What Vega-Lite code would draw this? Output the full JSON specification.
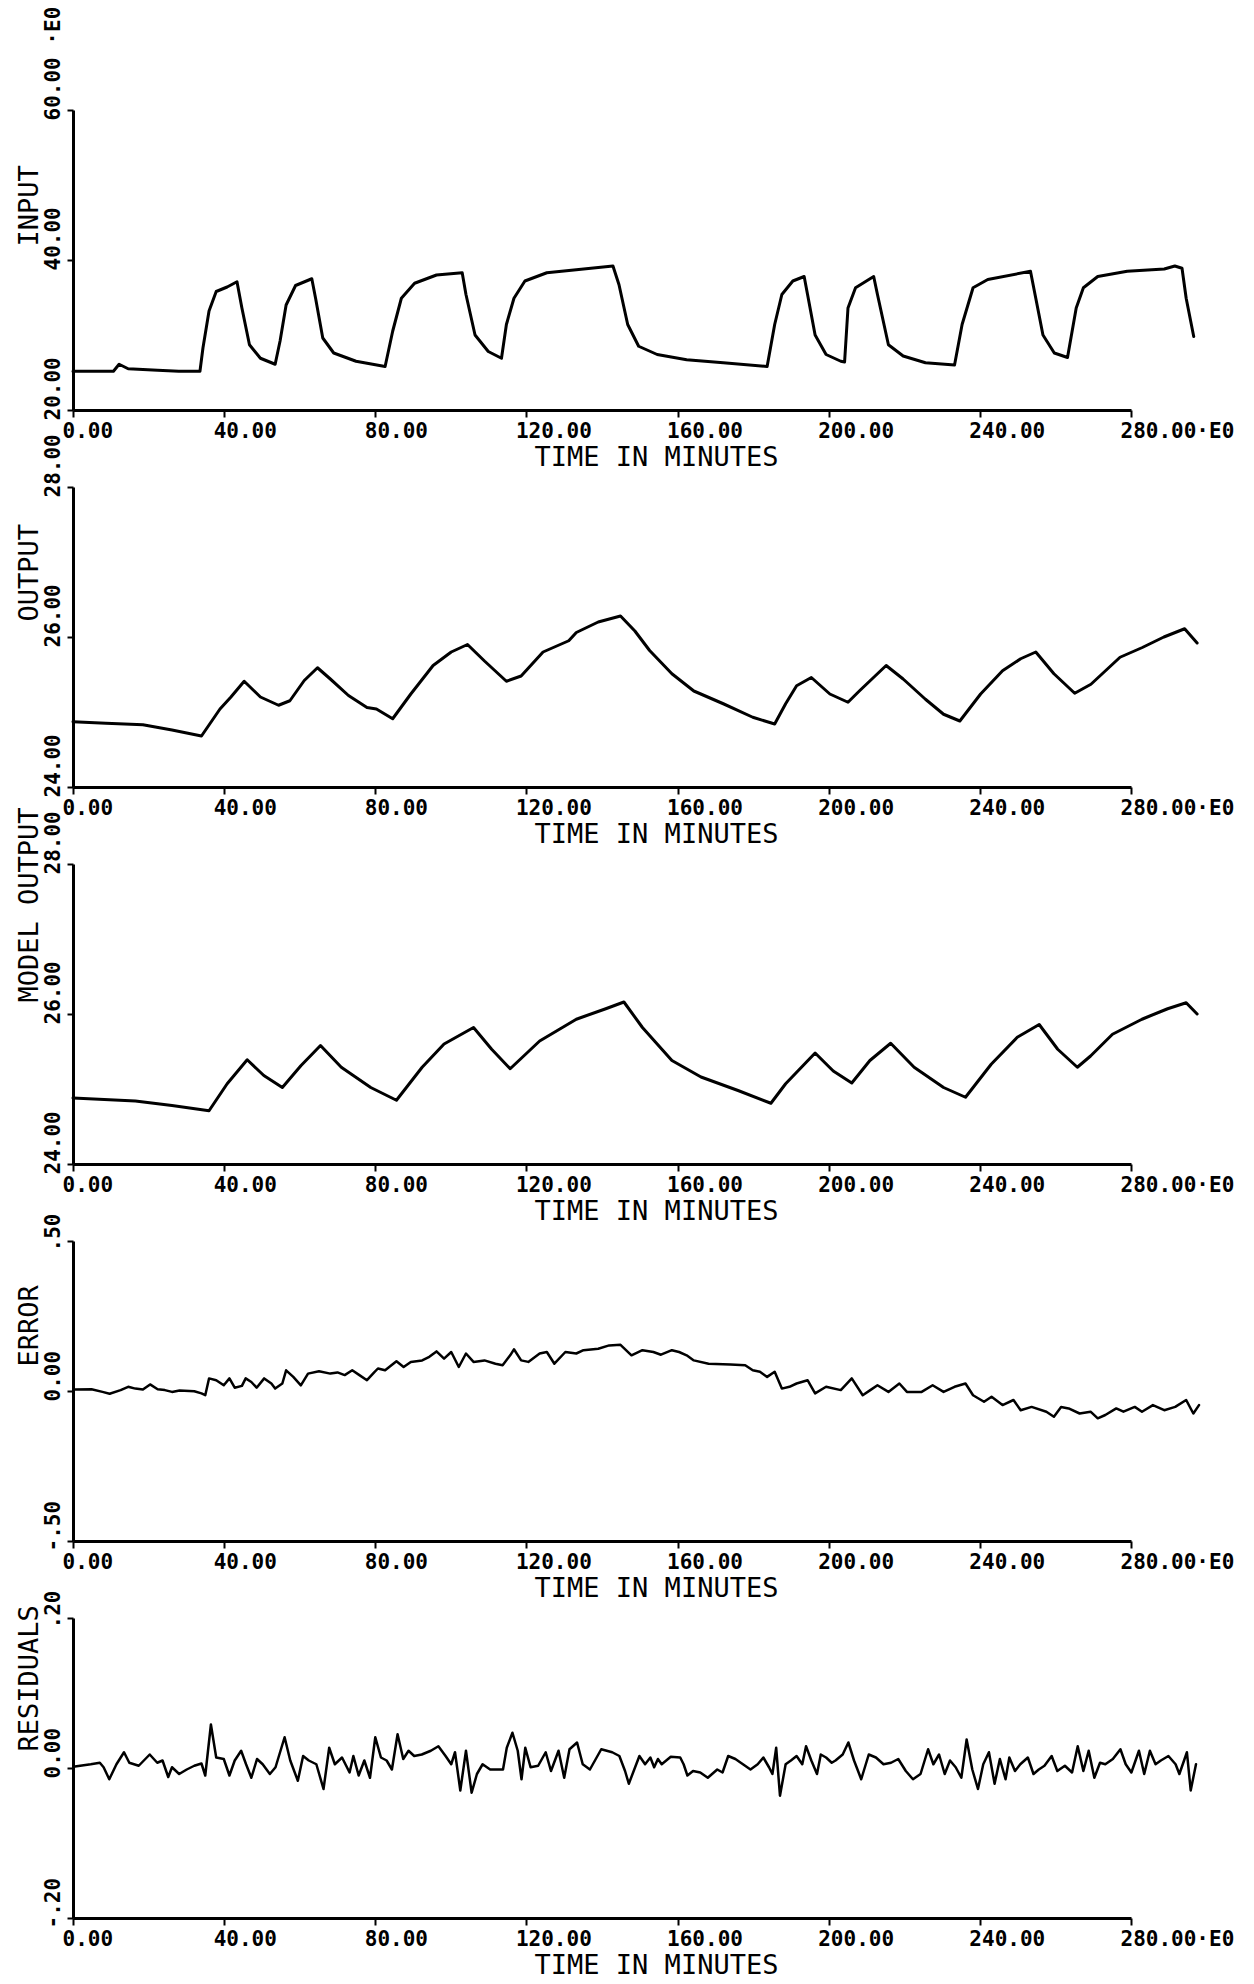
{
  "$schema": "https://vega.github.io/schema/vega-lite/v6.json",
  "background": "white",
  "padding": {"top": 6, "left": 14, "right": 5, "bottom": 2},
  "spacing": 77,
  "bounds": "flush",
  "config": {
    "view": {"stroke": null},
    "line": {"color": "black", "strokeWidth": 3, "strokeJoin": "round", "strokeCap": "round"},
    "axis": {
      "grid": false,
      "domainColor": "black",
      "domainWidth": 3,
      "tickColor": "black",
      "tickWidth": 2,
      "labelColor": "black",
      "labelFont": "DejaVu Sans Mono",
      "labelFontSize": 21,
      "labelFontWeight": "bold",
      "labelOverlap": false,
      "labelFlush": false,
      "labelLimit": 400,
      "titleColor": "black",
      "titleFont": "DejaVu Sans Mono",
      "titleFontSize": 27,
      "titleFontWeight": "normal"
    },
    "axisX": {
      "tickSize": 7,
      "labelAlign": "left",
      "labelBaseline": "top",
      "labelOffset": -11,
      "labelPadding": 3,
      "titleX": 583,
      "titleY": 55,
      "titleAlign": "center",
      "titleBaseline": "alphabetic"
    },
    "axisY": {
      "tickSize": 6,
      "labelAngle": 270,
      "labelAlign": "left",
      "labelBaseline": "bottom",
      "labelPadding": 4,
      "labelOffset": 10,
      "titleAngle": 270,
      "titleAlign": "left",
      "titleBaseline": "alphabetic",
      "titleX": -36
    }
  },
  "datasets": {
    "input": [
      {"t": 0, "v": 25.16}, {"t": 10.7, "v": 25.16}, {"t": 12.2, "v": 26.1}, {"t": 14.6, "v": 25.5}, {"t": 22.4, "v": 25.3}, {"t": 28, "v": 25.16}, {"t": 33.6, "v": 25.16},
      {"t": 34.4, "v": 28.3}, {"t": 36, "v": 33.2}, {"t": 37.9, "v": 35.8}, {"t": 40.8, "v": 36.4}, {"t": 43.4, "v": 37.1},
      {"t": 44.7, "v": 33.6}, {"t": 46.7, "v": 28.7}, {"t": 49.6, "v": 26.9}, {"t": 53.5, "v": 26.1},
      {"t": 54.8, "v": 29.2}, {"t": 56.4, "v": 34.0}, {"t": 58.9, "v": 36.6}, {"t": 63.2, "v": 37.5},
      {"t": 64.2, "v": 34.9}, {"t": 66.1, "v": 29.6}, {"t": 69, "v": 27.6}, {"t": 74.9, "v": 26.5}, {"t": 82.6, "v": 25.8},
      {"t": 84.6, "v": 30.5}, {"t": 86.9, "v": 34.9}, {"t": 90.4, "v": 36.9}, {"t": 96.2, "v": 38.0}, {"t": 103, "v": 38.3},
      {"t": 104, "v": 35.4}, {"t": 106.4, "v": 30.0}, {"t": 109.9, "v": 27.8}, {"t": 113.4, "v": 26.9},
      {"t": 114.7, "v": 31.4}, {"t": 116.7, "v": 34.9}, {"t": 119.6, "v": 37.2}, {"t": 125.4, "v": 38.3}, {"t": 133.2, "v": 38.7}, {"t": 142.9, "v": 39.2},
      {"t": 144.5, "v": 36.7}, {"t": 146.8, "v": 31.4}, {"t": 149.7, "v": 28.5}, {"t": 154.6, "v": 27.4}, {"t": 162.4, "v": 26.7}, {"t": 172.1, "v": 26.3}, {"t": 183.7, "v": 25.8},
      {"t": 185.7, "v": 31.4}, {"t": 187.6, "v": 35.4}, {"t": 190.5, "v": 37.2}, {"t": 193.5, "v": 37.8},
      {"t": 194.4, "v": 35.4}, {"t": 196.4, "v": 30.0}, {"t": 199.3, "v": 27.4}, {"t": 203.2, "v": 26.5}, {"t": 204.2, "v": 26.4},
      {"t": 205.1, "v": 33.6}, {"t": 207.1, "v": 36.3}, {"t": 211.9, "v": 37.8},
      {"t": 212.9, "v": 35.4}, {"t": 215.8, "v": 28.7}, {"t": 219.7, "v": 27.2}, {"t": 225.6, "v": 26.3}, {"t": 233.3, "v": 26.0},
      {"t": 235.3, "v": 31.4}, {"t": 238.2, "v": 36.3}, {"t": 242.1, "v": 37.4}, {"t": 253.4, "v": 38.5},
      {"t": 254.8, "v": 34.9}, {"t": 256.7, "v": 30.0}, {"t": 259.7, "v": 27.6}, {"t": 263.2, "v": 27.0},
      {"t": 265.5, "v": 33.6}, {"t": 267.4, "v": 36.3}, {"t": 271.2, "v": 37.8}, {"t": 279, "v": 38.5}, {"t": 288.8, "v": 38.8}, {"t": 291.6, "v": 39.2}, {"t": 293.5, "v": 38.9},
      {"t": 294.6, "v": 34.9}, {"t": 296.6, "v": 29.8}
    ],
    "output": [
      {"t": 0, "v": 24.87}, {"t": 8.7, "v": 24.85}, {"t": 18.5, "v": 24.83}, {"t": 26.2, "v": 24.76}, {"t": 34, "v": 24.68}, {"t": 38.9, "v": 25.04}, {"t": 41.8, "v": 25.2}, {"t": 45.3, "v": 25.41},
      {"t": 49.6, "v": 25.2}, {"t": 54.4, "v": 25.09}, {"t": 57.4, "v": 25.15}, {"t": 61.2, "v": 25.42}, {"t": 64.7, "v": 25.59}, {"t": 68.1, "v": 25.44}, {"t": 72.9, "v": 25.22},
      {"t": 77.8, "v": 25.06}, {"t": 80.3, "v": 25.04}, {"t": 84.6, "v": 24.91}, {"t": 89.4, "v": 25.24}, {"t": 95.3, "v": 25.62}, {"t": 100.1, "v": 25.8}, {"t": 104.4, "v": 25.9},
      {"t": 108.9, "v": 25.68}, {"t": 114.7, "v": 25.41}, {"t": 118.6, "v": 25.48}, {"t": 124.4, "v": 25.8}, {"t": 131.2, "v": 25.95}, {"t": 133.2, "v": 26.06}, {"t": 139, "v": 26.2},
      {"t": 144.9, "v": 26.28}, {"t": 148.7, "v": 26.08}, {"t": 152.6, "v": 25.82}, {"t": 158.5, "v": 25.51}, {"t": 164.3, "v": 25.28}, {"t": 172.1, "v": 25.11}, {"t": 179.9, "v": 24.93},
      {"t": 185.7, "v": 24.84}, {"t": 188.6, "v": 25.11}, {"t": 191.5, "v": 25.35}, {"t": 195.4, "v": 25.46}, {"t": 200.3, "v": 25.24}, {"t": 205.1, "v": 25.13}, {"t": 208.1, "v": 25.28},
      {"t": 215.2, "v": 25.62}, {"t": 219.7, "v": 25.44}, {"t": 225.6, "v": 25.17}, {"t": 230.4, "v": 24.97}, {"t": 234.7, "v": 24.88}, {"t": 240.2, "v": 25.24}, {"t": 246, "v": 25.55},
      {"t": 250.8, "v": 25.71}, {"t": 254.8, "v": 25.8}, {"t": 259.6, "v": 25.51}, {"t": 265.1, "v": 25.25}, {"t": 269.4, "v": 25.37}, {"t": 277.1, "v": 25.73}, {"t": 283, "v": 25.86},
      {"t": 288.7, "v": 26.0}, {"t": 294.2, "v": 26.11}, {"t": 297.5, "v": 25.92}
    ],
    "model": [
      {"t": 0, "v": 24.88}, {"t": 16.5, "v": 24.84}, {"t": 26.2, "v": 24.78}, {"t": 36, "v": 24.71}, {"t": 40.8, "v": 25.07}, {"t": 46.1, "v": 25.39}, {"t": 50.5, "v": 25.18},
      {"t": 55.4, "v": 25.02}, {"t": 60.3, "v": 25.31}, {"t": 65.5, "v": 25.58}, {"t": 71, "v": 25.29}, {"t": 78.8, "v": 25.02}, {"t": 85.6, "v": 24.85}, {"t": 92.4, "v": 25.29},
      {"t": 98.2, "v": 25.6}, {"t": 106, "v": 25.82}, {"t": 110.8, "v": 25.53}, {"t": 115.7, "v": 25.27}, {"t": 123.5, "v": 25.64}, {"t": 133.2, "v": 25.93}, {"t": 141, "v": 26.07},
      {"t": 145.8, "v": 26.16}, {"t": 150.7, "v": 25.82}, {"t": 158.5, "v": 25.38}, {"t": 166.2, "v": 25.16}, {"t": 176, "v": 24.98}, {"t": 184.7, "v": 24.81}, {"t": 188.6, "v": 25.07},
      {"t": 196.4, "v": 25.48}, {"t": 201.2, "v": 25.24}, {"t": 206.1, "v": 25.08}, {"t": 210.9, "v": 25.38}, {"t": 216.4, "v": 25.61}, {"t": 222.6, "v": 25.29}, {"t": 230.4, "v": 25.02},
      {"t": 236.2, "v": 24.89}, {"t": 243, "v": 25.33}, {"t": 249.9, "v": 25.69}, {"t": 255.7, "v": 25.86}, {"t": 260.6, "v": 25.53}, {"t": 265.8, "v": 25.29}, {"t": 269.3, "v": 25.44},
      {"t": 275.1, "v": 25.73}, {"t": 282.9, "v": 25.93}, {"t": 289.7, "v": 26.07}, {"t": 294.6, "v": 26.15}, {"t": 297.5, "v": 26.0}
    ],
    "error": [
      {"t": 0.5, "v": 0.005}, {"t": 4.9, "v": 0.006}, {"t": 7.8, "v": -0.003}, {"t": 9.7, "v": -0.009}, {"t": 12.6, "v": 0.003}, {"t": 14.6, "v": 0.014}, {"t": 16.5, "v": 0.008},
      {"t": 18.5, "v": 0.005}, {"t": 20.4, "v": 0.022}, {"t": 22.4, "v": 0.006}, {"t": 24.3, "v": 0.003}, {"t": 26.2, "v": -0.003}, {"t": 28.2, "v": 0.002}, {"t": 32.1, "v": -0.001},
      {"t": 34.0, "v": -0.008}, {"t": 35.0, "v": -0.014}, {"t": 36.0, "v": 0.042}, {"t": 37.9, "v": 0.036}, {"t": 39.9, "v": 0.019}, {"t": 41.4, "v": 0.042}, {"t": 42.8, "v": 0.011},
      {"t": 44.7, "v": 0.017}, {"t": 45.7, "v": 0.042}, {"t": 47.2, "v": 0.03}, {"t": 48.6, "v": 0.011}, {"t": 50.6, "v": 0.042}, {"t": 52.5, "v": 0.025}, {"t": 53.5, "v": 0.008},
      {"t": 55.4, "v": 0.025}, {"t": 56.4, "v": 0.069}, {"t": 58.3, "v": 0.047}, {"t": 60.3, "v": 0.019}, {"t": 62.2, "v": 0.058}, {"t": 65.1, "v": 0.066}, {"t": 68.1, "v": 0.058},
      {"t": 70.0, "v": 0.062}, {"t": 71.9, "v": 0.053}, {"t": 73.9, "v": 0.069}, {"t": 75.8, "v": 0.053}, {"t": 77.8, "v": 0.036}, {"t": 79.7, "v": 0.062}, {"t": 80.7, "v": 0.075},
      {"t": 82.6, "v": 0.069}, {"t": 85.6, "v": 0.099}, {"t": 87.5, "v": 0.08}, {"t": 89.4, "v": 0.097}, {"t": 92.4, "v": 0.102}, {"t": 94.3, "v": 0.114}, {"t": 96.2, "v": 0.132},
      {"t": 98.2, "v": 0.108}, {"t": 100.1, "v": 0.13}, {"t": 102.1, "v": 0.08}, {"t": 104.0, "v": 0.125}, {"t": 106.0, "v": 0.097}, {"t": 108.9, "v": 0.102}, {"t": 111.8, "v": 0.091},
      {"t": 113.7, "v": 0.086}, {"t": 115.7, "v": 0.119}, {"t": 116.7, "v": 0.139}, {"t": 118.6, "v": 0.102}, {"t": 120.5, "v": 0.097}, {"t": 123.5, "v": 0.125}, {"t": 125.4, "v": 0.13},
      {"t": 127.4, "v": 0.091}, {"t": 130.3, "v": 0.13}, {"t": 133.2, "v": 0.125}, {"t": 135.1, "v": 0.136}, {"t": 139.0, "v": 0.141}, {"t": 141.9, "v": 0.152}, {"t": 144.9, "v": 0.154},
      {"t": 147.8, "v": 0.119}, {"t": 150.7, "v": 0.136}, {"t": 153.6, "v": 0.13}, {"t": 155.6, "v": 0.121}, {"t": 158.5, "v": 0.136}, {"t": 160.4, "v": 0.13}, {"t": 162.4, "v": 0.119},
      {"t": 164.3, "v": 0.102}, {"t": 168.2, "v": 0.091}, {"t": 174.0, "v": 0.088}, {"t": 177.9, "v": 0.086}, {"t": 179.9, "v": 0.069}, {"t": 181.8, "v": 0.064}, {"t": 183.7, "v": 0.047},
      {"t": 185.7, "v": 0.064}, {"t": 187.6, "v": 0.008}, {"t": 189.6, "v": 0.014}, {"t": 191.5, "v": 0.025}, {"t": 194.4, "v": 0.036}, {"t": 196.4, "v": -0.008}, {"t": 199.3, "v": 0.014},
      {"t": 203.2, "v": 0.003}, {"t": 206.1, "v": 0.042}, {"t": 209.0, "v": -0.014}, {"t": 211.0, "v": 0.003}, {"t": 212.9, "v": 0.019}, {"t": 215.8, "v": -0.003}, {"t": 218.7, "v": 0.025},
      {"t": 220.7, "v": -0.003}, {"t": 224.6, "v": -0.003}, {"t": 227.5, "v": 0.019}, {"t": 230.4, "v": -0.003}, {"t": 233.3, "v": 0.014}, {"t": 236.2, "v": 0.025}, {"t": 238.2, "v": -0.014},
      {"t": 241.1, "v": -0.036}, {"t": 243.1, "v": -0.019}, {"t": 246.0, "v": -0.047}, {"t": 248.9, "v": -0.03}, {"t": 250.8, "v": -0.064}, {"t": 253.7, "v": -0.053}, {"t": 257.6, "v": -0.069},
      {"t": 259.6, "v": -0.086}, {"t": 261.5, "v": -0.053}, {"t": 263.5, "v": -0.058}, {"t": 266.4, "v": -0.075}, {"t": 269.3, "v": -0.069}, {"t": 271.2, "v": -0.091}, {"t": 273.2, "v": -0.08},
      {"t": 276.1, "v": -0.058}, {"t": 278.0, "v": -0.069}, {"t": 281.0, "v": -0.053}, {"t": 282.9, "v": -0.069}, {"t": 285.8, "v": -0.047}, {"t": 288.8, "v": -0.064}, {"t": 291.7, "v": -0.053},
      {"t": 294.6, "v": -0.03}, {"t": 296.5, "v": -0.075}, {"t": 298.0, "v": -0.047}
    ],
    "resid": [
      {"t": 0.5, "v": 0.002}, {"t": 4.7, "v": 0.005}, {"t": 7.1, "v": 0.007}, {"t": 8.1, "v": 0.001}, {"t": 9.6, "v": -0.015}, {"t": 11.5, "v": 0.005}, {"t": 13.5, "v": 0.021},
      {"t": 14.9, "v": 0.007}, {"t": 17.4, "v": 0.003}, {"t": 20.3, "v": 0.018}, {"t": 22.3, "v": 0.007}, {"t": 23.7, "v": 0.01}, {"t": 25.2, "v": -0.012}, {"t": 26.2, "v": 0.001},
      {"t": 28.1, "v": -0.008}, {"t": 30.1, "v": -0.002}, {"t": 32.1, "v": 0.003}, {"t": 34.0, "v": 0.006}, {"t": 35.0, "v": -0.01}, {"t": 36.5, "v": 0.058}, {"t": 37.9, "v": 0.014},
      {"t": 39.9, "v": 0.012}, {"t": 41.4, "v": -0.01}, {"t": 42.8, "v": 0.01}, {"t": 44.5, "v": 0.023}, {"t": 45.8, "v": 0.005}, {"t": 47.2, "v": -0.013}, {"t": 48.7, "v": 0.012},
      {"t": 50.2, "v": 0.005}, {"t": 52.1, "v": -0.008}, {"t": 53.6, "v": 0.001}, {"t": 56.0, "v": 0.041}, {"t": 57.5, "v": 0.01}, {"t": 59.5, "v": -0.017}, {"t": 60.9, "v": 0.016},
      {"t": 62.4, "v": 0.01}, {"t": 64.4, "v": 0.005}, {"t": 66.3, "v": -0.028}, {"t": 67.8, "v": 0.027}, {"t": 69.3, "v": 0.005}, {"t": 71.2, "v": 0.014}, {"t": 73.2, "v": -0.006},
      {"t": 74.2, "v": 0.016}, {"t": 75.6, "v": -0.01}, {"t": 77.1, "v": 0.01}, {"t": 78.6, "v": -0.013}, {"t": 80.0, "v": 0.041}, {"t": 81.5, "v": 0.014}, {"t": 83.0, "v": 0.01},
      {"t": 84.4, "v": -0.002}, {"t": 85.9, "v": 0.045}, {"t": 87.4, "v": 0.012}, {"t": 88.8, "v": 0.023}, {"t": 90.3, "v": 0.016}, {"t": 92.3, "v": 0.018}, {"t": 94.7, "v": 0.023},
      {"t": 96.7, "v": 0.029}, {"t": 98.6, "v": 0.016}, {"t": 100.1, "v": 0.005}, {"t": 101.1, "v": 0.021}, {"t": 102.5, "v": -0.03}, {"t": 104.0, "v": 0.023}, {"t": 105.5, "v": -0.033},
      {"t": 106.9, "v": -0.008}, {"t": 108.4, "v": 0.005}, {"t": 110.4, "v": -0.002}, {"t": 113.8, "v": -0.002}, {"t": 114.8, "v": 0.027}, {"t": 116.3, "v": 0.047}, {"t": 117.7, "v": 0.023},
      {"t": 118.7, "v": -0.015}, {"t": 119.7, "v": 0.027}, {"t": 121.1, "v": 0.001}, {"t": 123.1, "v": 0.003}, {"t": 125.1, "v": 0.021}, {"t": 126.5, "v": -0.004}, {"t": 128.5, "v": 0.023},
      {"t": 130.0, "v": -0.013}, {"t": 131.4, "v": 0.025}, {"t": 133.4, "v": 0.034}, {"t": 134.9, "v": 0.005}, {"t": 136.8, "v": -0.002}, {"t": 139.8, "v": 0.025}, {"t": 142.7, "v": 0.021},
      {"t": 144.6, "v": 0.016}, {"t": 146.1, "v": -0.004}, {"t": 147.1, "v": -0.021}, {"t": 149.9, "v": 0.016}, {"t": 151.4, "v": 0.005}, {"t": 152.8, "v": 0.014}, {"t": 153.8, "v": 0.001},
      {"t": 154.8, "v": 0.012}, {"t": 155.8, "v": 0.005}, {"t": 158.2, "v": 0.015}, {"t": 160.7, "v": 0.014}, {"t": 161.6, "v": 0.005}, {"t": 162.6, "v": -0.01}, {"t": 164.1, "v": -0.004},
      {"t": 166.0, "v": -0.006}, {"t": 168.0, "v": -0.013}, {"t": 170.5, "v": -0.002}, {"t": 171.9, "v": -0.006}, {"t": 173.4, "v": 0.016}, {"t": 175.3, "v": 0.012}, {"t": 177.3, "v": 0.005},
      {"t": 179.3, "v": -0.002}, {"t": 181.2, "v": 0.005}, {"t": 182.7, "v": 0.014}, {"t": 184.2, "v": 0.001}, {"t": 185.1, "v": -0.008}, {"t": 186.1, "v": 0.027}, {"t": 187.1, "v": -0.037},
      {"t": 188.6, "v": 0.005}, {"t": 190.0, "v": 0.01}, {"t": 191.5, "v": 0.016}, {"t": 193.0, "v": 0.005}, {"t": 194.0, "v": 0.029}, {"t": 195.4, "v": 0.01}, {"t": 196.9, "v": -0.008},
      {"t": 197.9, "v": 0.018}, {"t": 199.3, "v": 0.014}, {"t": 200.8, "v": 0.007}, {"t": 201.8, "v": 0.01}, {"t": 203.7, "v": 0.018}, {"t": 205.2, "v": 0.034}, {"t": 206.7, "v": 0.01},
      {"t": 208.6, "v": -0.015}, {"t": 210.6, "v": 0.018}, {"t": 212.5, "v": 0.014}, {"t": 214.5, "v": 0.005}, {"t": 216.5, "v": 0.007}, {"t": 218.4, "v": 0.012}, {"t": 220.4, "v": -0.004},
      {"t": 222.3, "v": -0.015}, {"t": 224.3, "v": -0.008}, {"t": 226.3, "v": 0.025}, {"t": 227.7, "v": 0.005}, {"t": 229.2, "v": 0.018}, {"t": 230.7, "v": -0.008}, {"t": 232.1, "v": 0.01},
      {"t": 233.6, "v": 0.001}, {"t": 235.1, "v": -0.013}, {"t": 236.5, "v": 0.038}, {"t": 238.0, "v": -0.002}, {"t": 239.5, "v": -0.028}, {"t": 240.9, "v": 0.005}, {"t": 242.4, "v": 0.021},
      {"t": 243.9, "v": -0.021}, {"t": 245.3, "v": 0.012}, {"t": 246.8, "v": -0.015}, {"t": 247.8, "v": 0.014}, {"t": 249.3, "v": -0.004}, {"t": 250.7, "v": 0.005}, {"t": 252.7, "v": 0.014},
      {"t": 254.2, "v": -0.008}, {"t": 255.6, "v": -0.002}, {"t": 257.1, "v": 0.003}, {"t": 259.0, "v": 0.016}, {"t": 260.5, "v": -0.004}, {"t": 262.5, "v": 0.003}, {"t": 264.4, "v": -0.006},
      {"t": 265.9, "v": 0.029}, {"t": 267.4, "v": -0.004}, {"t": 268.8, "v": 0.023}, {"t": 270.3, "v": -0.013}, {"t": 271.8, "v": 0.007}, {"t": 273.2, "v": 0.005}, {"t": 275.2, "v": 0.012},
      {"t": 277.2, "v": 0.025}, {"t": 278.6, "v": 0.005}, {"t": 280.1, "v": -0.006}, {"t": 282.1, "v": 0.023}, {"t": 283.5, "v": -0.008}, {"t": 285.0, "v": 0.023}, {"t": 286.5, "v": 0.005},
      {"t": 287.9, "v": 0.01}, {"t": 289.9, "v": 0.016}, {"t": 291.8, "v": 0.005}, {"t": 292.8, "v": -0.008}, {"t": 294.8, "v": 0.021}, {"t": 295.8, "v": -0.03}, {"t": 297.2, "v": 0.005}
    ]
  },
  "vconcat": [
    {
      "width": 1058, "height": 300,
      "data": {"name": "input"},
      "mark": {"type": "line"},
      "encoding": {
        "x": {"field": "t", "type": "quantitative", "scale": {"domain": [0, 280], "nice": false, "zero": false},
              "axis": {"title": "TIME IN MINUTES", "values": [0, 40, 80, 120, 160, 200, 240, 280], "labelExpr": "datum.value == 280 ? '280.00·E0' : format(datum.value, '.2f')"}},
        "y": {"field": "v", "type": "quantitative", "scale": {"domain": [20, 60], "nice": false, "zero": false},
              "axis": {"title": "INPUT", "titleY": 136, "values": [20, 40, 60],
                       "labelExpr": "datum.value == 60 ? '60.00 ·E0' : format(datum.value, '.2f')"}}
      }
    },
    {
      "width": 1058, "height": 300,
      "data": {"name": "output"},
      "mark": {"type": "line"},
      "encoding": {
        "x": {"field": "t", "type": "quantitative", "scale": {"domain": [0, 280], "nice": false, "zero": false},
              "axis": {"title": "TIME IN MINUTES", "values": [0, 40, 80, 120, 160, 200, 240, 280], "labelExpr": "datum.value == 280 ? '280.00·E0' : format(datum.value, '.2f')"}},
        "y": {"field": "v", "type": "quantitative", "scale": {"domain": [24, 28], "nice": false, "zero": false},
              "axis": {"title": "OUTPUT", "titleY": 134, "values": [24, 26, 28], "labelExpr": "format(datum.value, '.2f')"}}
      }
    },
    {
      "width": 1058, "height": 300,
      "data": {"name": "model"},
      "mark": {"type": "line"},
      "encoding": {
        "x": {"field": "t", "type": "quantitative", "scale": {"domain": [0, 280], "nice": false, "zero": false},
              "axis": {"title": "TIME IN MINUTES", "values": [0, 40, 80, 120, 160, 200, 240, 280], "labelExpr": "datum.value == 280 ? '280.00·E0' : format(datum.value, '.2f')"}},
        "y": {"field": "v", "type": "quantitative", "scale": {"domain": [24, 28], "nice": false, "zero": false},
              "axis": {"title": "MODEL OUTPUT", "titleY": 138, "values": [24, 26, 28], "labelExpr": "format(datum.value, '.2f')"}}
      }
    },
    {
      "width": 1058, "height": 300,
      "data": {"name": "error"},
      "mark": {"type": "line", "strokeWidth": 2.5},
      "encoding": {
        "x": {"field": "t", "type": "quantitative", "scale": {"domain": [0, 280], "nice": false, "zero": false},
              "axis": {"title": "TIME IN MINUTES", "values": [0, 40, 80, 120, 160, 200, 240, 280], "labelExpr": "datum.value == 280 ? '280.00·E0' : format(datum.value, '.2f')"}},
        "y": {"field": "v", "type": "quantitative", "scale": {"domain": [-0.5, 0.5], "nice": false, "zero": false},
              "axis": {"title": "ERROR", "titleY": 125, "values": [-0.5, 0, 0.5],
                       "labelExpr": "datum.value > 0.1 ? '.50' : (datum.value < -0.1 ? '-.50' : '0.00')"}}
      }
    },
    {
      "width": 1058, "height": 300,
      "data": {"name": "resid"},
      "mark": {"type": "line", "strokeWidth": 2.5},
      "encoding": {
        "x": {"field": "t", "type": "quantitative", "scale": {"domain": [0, 280], "nice": false, "zero": false},
              "axis": {"title": "TIME IN MINUTES", "values": [0, 40, 80, 120, 160, 200, 240, 280], "labelExpr": "datum.value == 280 ? '280.00·E0' : format(datum.value, '.2f')"}},
        "y": {"field": "v", "type": "quantitative", "scale": {"domain": [-0.2, 0.2], "nice": false, "zero": false},
              "axis": {"title": "RESIDUALS", "titleY": 133, "values": [-0.2, 0, 0.2],
                       "labelExpr": "datum.value > 0.1 ? '.20' : (datum.value < -0.1 ? '-.20' : '0.00')"}}
      }
    }
  ]
}
